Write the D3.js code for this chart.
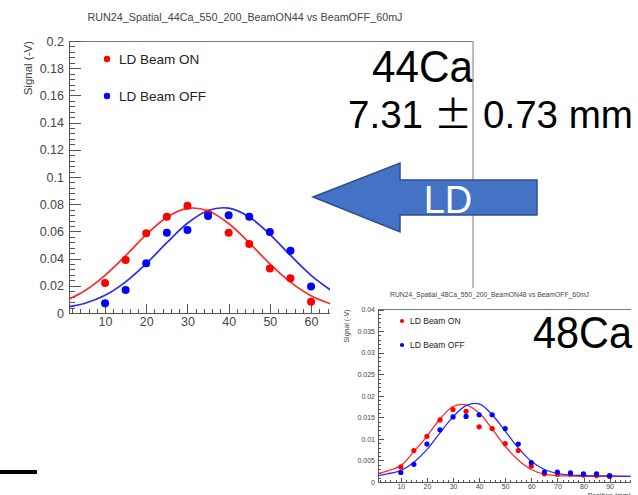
<!DOCTYPE html>
<html>
<head>
<meta charset="utf-8">
<title>44Ca / 48Ca spatial</title>
<style>
	body { margin: 0; background: #fff; }
	svg { display: block; font-family: "Liberation Sans", Arial, sans-serif; }
	.axis path, .axis line { fill: none; stroke: #555; shape-rendering: crispEdges; }
	.axis text { fill: #444; }
	.minor path { display: none; }
</style>
<script src="https://cdn.jsdelivr.net/npm/d3@7"></script>
</head>
<body>
<script>
// ---- 44Ca (big plot) ----
var pos44 = [10, 15, 20, 25, 30, 35, 40, 45, 50, 55, 60];
var beamOn44 = [0.022, 0.039, 0.0586, 0.0708, 0.0789, 0.073, 0.059, 0.0507, 0.0328, 0.0255, 0.0083];
var beamOff44 = [0.0071, 0.0169, 0.0365, 0.059, 0.061, 0.0713, 0.0718, 0.0708, 0.0596, 0.0458, 0.0194];
// fit curves
var fitPos44 = [1.3, 5, 10, 15, 20, 25, 30, 35, 40, 45, 50, 55, 60, 65];
var fitOn44 = [0.0104, 0.0162, 0.0277, 0.0422, 0.0576, 0.0704, 0.0769, 0.0752, 0.0658, 0.0516, 0.0361, 0.0227, 0.0127, 0.0064];
var fitOff44 = [0.0047, 0.0070, 0.0130, 0.0229, 0.0363, 0.0517, 0.0660, 0.0754, 0.0771, 0.0706, 0.0578, 0.0423, 0.0277, 0.0163];
var yTicks44 = [0, 0.02, 0.04, 0.06, 0.08, 0.1, 0.12, 0.14, 0.16, 0.18, 0.2];
var yLabels44 = ["0", "0.02", "0.04", "0.06", "0.08", "0.1", "0.12", "0.14", "0.16", "0.18", "0.2"];
var xTicks = [10, 20, 30, 40, 50, 60, 70, 80, 90];
var xLabels = ["10", "20", "30", "40", "50", "60", "70", "80", "90"];

// ---- 48Ca (small plot) ----
var pos48 = [10, 15, 20, 25, 30, 35, 40, 45, 50, 55, 60, 65, 70, 75, 80, 85, 90];
var beamOn48 = [0.0035, 0.0073, 0.0106, 0.0144, 0.0168, 0.0164, 0.0128, 0.0124, 0.0089, 0.0073, 0.0037, 0.0019, 0.0018, 0.0018, 0.0016, 0.0015, 0.0013];
var beamOff48 = [0.0022, 0.0041, 0.0088, 0.0121, 0.0151, 0.0152, 0.0156, 0.0156, 0.0124, 0.0088, 0.0045, 0.0023, 0.0023, 0.0021, 0.0019, 0.0019, 0.0015];
var fitPos48 = [1.3, 5, 10, 15, 20, 25, 30, 35, 40, 45, 50, 55, 60, 65, 70, 75, 80, 90, 98];
var fitOn48 = [0.0020, 0.0026, 0.0038, 0.0071, 0.0106, 0.0146, 0.0175, 0.0179, 0.0160, 0.0123, 0.0083, 0.0051, 0.0029, 0.0018, 0.0015, 0.0014, 0.0013, 0.0013, 0.0013];
var fitOff48 = [0.0015, 0.0019, 0.0027, 0.0046, 0.0075, 0.0114, 0.0151, 0.0177, 0.0181, 0.0156, 0.0118, 0.0079, 0.0048, 0.0029, 0.0020, 0.0016, 0.0015, 0.0014, 0.0013];
var yTicks48 = [0, 0.005, 0.01, 0.015, 0.02, 0.025, 0.03, 0.035, 0.04];
var yLabels48 = ["0", "0.005", "0.01", "0.015", "0.02", "0.025", "0.03", "0.035", "0.04"];

var legendNames = ["LD Beam ON", "LD Beam OFF"];
var dotColors = ["#ff0000", "#0000ff"];
var lineColors = ["#ff2a2a", "#2a2aff"];

var W = 638, H = 495;
var svg = d3.select("body").append("svg")
	.attr("width", W)
	.attr("height", H);
svg.append("rect").attr("width", W).attr("height", H).attr("fill", "#fff");

function drawPanel(p) {
	var x = d3.scaleLinear().domain(p.xDomain).range([p.left, p.right]);
	var y = d3.scaleLinear().domain(p.yDomain).range([p.bottom, p.top]);
	var g = svg.append("g");

	var clipId = "clip" + p.id;
	g.append("clipPath").attr("id", clipId)
		.append("rect")
		.attr("x", p.left - 1)
		.attr("y", p.top - 1)
		.attr("width", p.clipRight - p.left + 1)
		.attr("height", p.bottom - p.top + 2);
	var clipAll = "clipx" + p.id;
	g.append("clipPath").attr("id", clipAll)
		.append("rect")
		.attr("x", 0).attr("y", 0)
		.attr("width", p.clipRight).attr("height", H);

	// title
	g.append("text")
		.attr("x", p.titleX).attr("y", p.titleY)
		.attr("text-anchor", "middle")
		.attr("font-size", p.titleSize)
		.attr("textLength", p.titleLen)
		.attr("lengthAdjust", "spacingAndGlyphs")
		.attr("fill", "#444")
		.text(p.title);

	// frame top / right
	g.append("line")
		.attr("x1", p.left).attr("x2", p.right)
		.attr("y1", p.top).attr("y2", p.top)
		.attr("stroke", "#777").attr("shape-rendering", "crispEdges");

	// y axis, ROOT style ticks inside
	var yMinor = d3.range(p.yDomain[0], p.yDomain[1] + p.yMinorStep / 2, p.yMinorStep);
	g.append("g").attr("class", "axis minor")
		.attr("transform", "translate(" + p.left + ",0)")
		.call(d3.axisLeft(y).tickValues(yMinor).tickFormat("").tickSizeInner(-p.minorLen).tickSizeOuter(0));
	g.append("g").attr("class", "axis")
		.attr("transform", "translate(" + p.left + ",0)")
		.call(d3.axisLeft(y).tickValues(p.yTicks)
			.tickFormat(function(d, i) { return p.yLabels[i]; })
			.tickSizeInner(-p.majorLen).tickSizeOuter(0).tickPadding(p.pad))
		.selectAll("text").attr("font-size", p.tickSize);

	// x axis
	var xb = g.append("g").attr("clip-path", "url(#" + clipAll + ")");
	var xMinor = d3.range(2, p.xDomain[1], 2);
	xb.append("g").attr("class", "axis minor")
		.attr("transform", "translate(0," + p.bottom + ")")
		.call(d3.axisBottom(x).tickValues(xMinor).tickFormat("").tickSizeInner(-p.minorLen * 0.75).tickSizeOuter(0));
	xb.append("g").attr("class", "axis")
		.attr("transform", "translate(0," + p.bottom + ")")
		.call(d3.axisBottom(x).tickValues(xTicks)
			.tickFormat(function(d, i) { return xLabels[i]; })
			.tickSizeInner(-p.majorLen * 0.75).tickSizeOuter(0).tickPadding(p.pad - 1))
		.selectAll("text").attr("font-size", p.tickSize);

	// axis titles
	g.append("text")
		.attr("transform", "translate(" + p.yTitleX + "," + p.top + ") rotate(-90)")
		.attr("text-anchor", "end")
		.attr("font-size", p.axisTitleSize)
		.attr("fill", "#444")
		.text("Signal (-V)");
	if (p.showXTitle) {
		g.append("text")
			.attr("x", p.right).attr("y", p.xTitleY)
			.attr("text-anchor", "end")
			.attr("font-size", p.axisTitleSize)
			.attr("fill", "#444")
			.text("Position (mm)");
	}

	// fits
	var line = d3.line()
		.x(function(d) { return x(d[0]); })
		.y(function(d) { return y(d[1]); })
		.curve(d3.curveCatmullRom);
	var data = g.append("g").attr("clip-path", "url(#" + clipId + ")");
	[p.fitOn, p.fitOff].forEach(function(f, k) {
		data.append("path")
			.attr("d", line(p.fitPos.map(function(v, i) { return [v, f[i]]; })))
			.attr("fill", "none")
			.attr("stroke", lineColors[k])
			.attr("stroke-width", p.lineW);
	});
	// points
	[p.on, p.off].forEach(function(s, k) {
		data.selectAll(null)
			.data(p.pos.map(function(v, i) { return [v, s[i]]; }))
			.enter().append("circle")
			.attr("cx", function(d) { return x(d[0]); })
			.attr("cy", function(d) { return y(d[1]); })
			.attr("r", p.dotR)
			.attr("fill", dotColors[k]);
	});

	// legend
	legendNames.forEach(function(name, k) {
		var ly = p.legendY + k * p.legendStep;
		g.append("circle")
			.attr("cx", p.legendX).attr("cy", ly)
			.attr("r", p.dotR * 0.8)
			.attr("fill", dotColors[k]);
		g.append("text")
			.attr("x", p.legendX + p.legendGap).attr("y", ly)
			.attr("dy", "0.36em")
			.attr("font-size", p.legendSize)
			.attr("fill", "#222")
			.text(name);
	});
}

// big plot
drawPanel({
	id: "44", left: 69, right: 473, top: 41, bottom: 313, clipRight: 330,
	xDomain: [1.25, 99.3], yDomain: [0, 0.2], yTicks: yTicks44, yLabels: yLabels44, yMinorStep: 0.004,
	title: "RUN24_Spatial_44Ca_550_200_BeamON44 vs BeamOFF_60mJ",
	titleX: 245, titleY: 21, titleSize: 11, titleLen: 315,
	majorLen: 12, minorLen: 6, pad: 5, tickSize: 12.5,
	yTitleX: 32, axisTitleSize: 11.5, showXTitle: false,
	pos: pos44, on: beamOn44, off: beamOff44,
	fitPos: fitPos44, fitOn: fitOn44, fitOff: fitOff44,
	lineW: 1.7, dotR: 4,
	legendX: 107, legendY: 59, legendStep: 37, legendGap: 12, legendSize: 13.5
});

// labels on the big plot
svg.append("text")
	.attr("x", 473).attr("y", 82)
	.attr("text-anchor", "end")
	.attr("font-size", 45)
	.attr("textLength", 101).attr("lengthAdjust", "spacingAndGlyphs")
	.text("44Ca");
var res = svg.append("text")
	.attr("x", 348).attr("y", 128)
	.attr("font-size", 38)
	.attr("textLength", 285).attr("lengthAdjust", "spacingAndGlyphs");
res.append("tspan").text("7.31 ");
res.append("tspan").attr("font-family", "Noto Sans CJK JP").text("±");
res.append("tspan").text(" 0.73 mm");

// big frame right edge
svg.append("line")
	.attr("x1", 473).attr("x2", 473)
	.attr("y1", 41).attr("y2", 288)
	.attr("stroke", "#999").attr("stroke-width", 1.3);

// LD arrow
var arrowPts = [[313, 197], [400, 163], [400, 180], [537, 180], [537, 215], [400, 215], [400, 232]];
svg.append("polygon")
	.attr("points", arrowPts.map(function(d) { return d.join(","); }).join(" "))
	.attr("fill", "#4472c4")
	.attr("stroke", "#2f4f8a")
	.attr("stroke-width", 1.5);
svg.append("text")
	.attr("x", 448).attr("y", 213)
	.attr("text-anchor", "middle")
	.attr("font-size", 38)
	.attr("fill", "#fff")
	.text("LD");

// small plot sits on its own white card
svg.append("rect")
	.attr("x", 338).attr("y", 288)
	.attr("width", 300).attr("height", 207)
	.attr("fill", "#fff");
drawPanel({
	id: "48", left: 378, right: 631, top: 309.5, bottom: 482, clipRight: 631,
	xDomain: [1.25, 98.2], yDomain: [0, 0.04], yTicks: yTicks48, yLabels: yLabels48, yMinorStep: 0.001,
	title: "RUN24_Spatial_48Ca_550_200_BeamON48 vs BeamOFF_60mJ",
	titleX: 489.5, titleY: 297, titleSize: 7, titleLen: 199,
	majorLen: 6, minorLen: 3, pad: 3, tickSize: 7,
	yTitleX: 349, axisTitleSize: 7, showXTitle: true, xTitleY: 498,
	pos: pos48, on: beamOn48, off: beamOff48,
	fitPos: fitPos48, fitOn: fitOn48, fitOff: fitOff48,
	lineW: 1.3, dotR: 2.6,
	legendX: 402, legendY: 321, legendStep: 24, legendGap: 8, legendSize: 8.5
});

svg.append("text")
	.attr("x", 632).attr("y", 348)
	.attr("text-anchor", "end")
	.attr("font-size", 45)
	.attr("textLength", 99).attr("lengthAdjust", "spacingAndGlyphs")
	.text("48Ca");

// black stub bottom-left
svg.append("rect")
	.attr("x", 0).attr("y", 470)
	.attr("width", 37).attr("height", 4)
	.attr("fill", "#000");
</script>
</body>
</html>
